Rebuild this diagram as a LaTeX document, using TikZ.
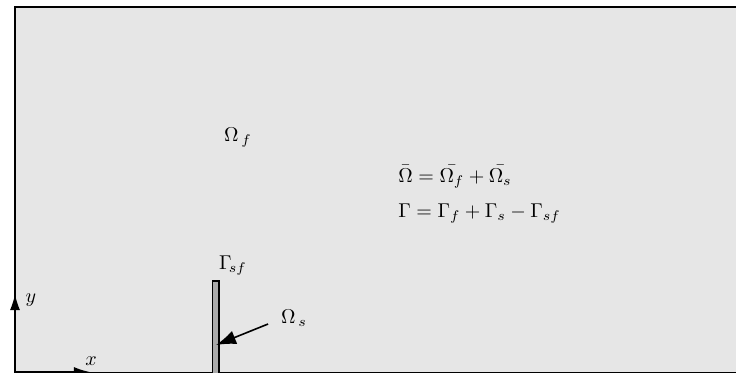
\documentclass[tikz,border=0pt]{standalone}
\usepackage{amsmath}
\usepackage{xcolor}
\usepackage{tikz}
\usetikzlibrary{arrows.meta,positioning}
\definecolor{DomFill}{HTML}{E6E6E6}
\definecolor{SolidFill}{HTML}{AAAAAA}

\tikzset{
  axisarrow/.style={thick, -{Latex[length=8pt,width=5pt]}},
  pointer/.style={thick, -{Latex[length=10pt,width=7pt]}},
}

\begin{document}
\begin{tikzpicture}[x=0.5pt, y=-0.5pt]
  \useasboundingbox (0,0) rectangle (736,372);
  \begin{scope}
  \clip (0,0) rectangle (736,372);
  \draw[fill=DomFill, line width=1.4pt] (15,7) rectangle (760,373);
  \draw[fill=SolidFill, draw=black, line width=0.6pt] (212.5,281) rectangle (219,380);
  % axes
  \coordinate (origin) at (15,372);
  \coordinate (ytip) at (15,294);
  \coordinate (xtip) at (90,372);
  \draw[axisarrow] (origin) -- (ytip);
  \draw[axisarrow] (origin) -- (xtip);
  \end{scope}
  \node (ylab) at (31,300) {$y$};
  \node (xlab) at (91,361) {$x$};
  % labels
  \node (omegaf) at (238,138) {$\Omega_{\,f}$};
  \node (gammasf) at (233,266) {$\Gamma_{\!sf}$};
  \node (omegas) at (294,318) {$\Omega_{\,s}$};
  \coordinate (solidpt) at (216,345);
  \draw[pointer] (omegas.west) ++(-6,6) coordinate (ptstart) -- (solidpt);
  \node[anchor=base west, inner sep=0pt] (eqone) at (398,182)
    {$\bar{\Omega} = \bar{\Omega_f} + \bar{\Omega_s}$};
  \node[anchor=base west, inner sep=0pt] (eqtwo) at (398,217)
    {$\Gamma = \Gamma_f + \Gamma_s - \Gamma_{sf}$};
\end{tikzpicture}
\end{document}
